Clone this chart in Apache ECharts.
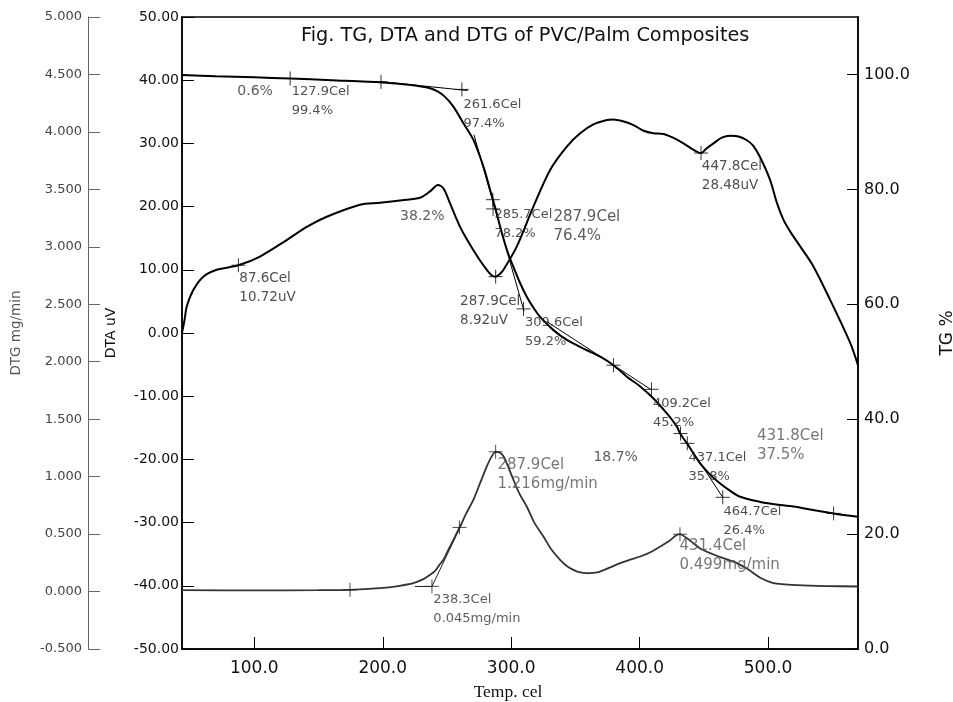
<!DOCTYPE html>
<html>
<head>
<meta charset="utf-8">
<script src="https://cdn.jsdelivr.net/npm/echarts@6/dist/echarts.min.js"></script>
<style>
html,body{margin:0;padding:0;background:#fff;}
#chart{width:953px;height:702px;}
</style>
</head>
<body>
<div id="chart"></div>
<script>
// ---- Data (temperature in Cel) ----
const tgData = [
  [43.7, 99.9], [70, 99.7], [100, 99.5], [127.9, 99.3], [160, 99.0], [200, 98.6],
  [220, 98.2], [236.8, 97.6], [243, 97.0], [248.5, 96.1], [255, 94.4], [262.8, 91.5],
  [270.6, 88.6], [278.3, 84.0], [283.6, 79.9], [288.8, 75.8], [291.4, 73.5], [296.6, 69.5],
  [301.7, 66.5], [306.9, 63.7], [312.1, 61.3], [317, 59.5], [322.5, 57.8], [332.9, 55.5],
  [343.3, 53.8], [358.9, 52.0], [370, 50.8], [379.6, 49.4], [390, 47.4], [400.4, 45.7],
  [410.8, 43.6], [421.2, 41.0], [429, 38.7], [431.5, 37.5], [436.8, 35.8], [447.1, 32.3],
  [455, 30.3], [462.7, 28.8], [470, 27.6], [478.3, 26.5], [493.9, 25.6], [505, 25.2],
  [519.8, 24.8], [535, 24.2], [551, 23.6], [570, 23.0]
];
const dtaData = [
  [43.7, 0.0], [45.7, 2.1], [47.4, 4.2], [52.5, 6.8], [60.3, 8.9], [70.7, 10.0],
  [87.6, 10.72], [104.4, 12.1], [125.2, 14.7], [140.8, 16.8], [156.4, 18.4], [182.3, 20.3],
  [197.9, 20.6], [215, 21.0], [229, 21.4], [236.8, 22.4], [243, 23.4], [247.2, 22.9],
  [252.4, 20.5], [256.5, 18.5], [260.2, 16.8], [265, 15.0], [270.6, 13.1], [276, 11.4],
  [281, 10.0], [285, 9.1], [287.9, 8.92], [291, 9.3], [294, 10.0], [304.4, 13.7],
  [317.3, 20.0], [330.3, 25.8], [343.3, 29.5], [353.7, 31.6], [364, 33.0], [374.5, 33.7],
  [379.6, 33.8], [387, 33.5], [395.2, 32.9], [403, 32.0], [410.7, 31.6], [418.5, 31.5],
  [426, 30.9], [434.1, 30.0], [441, 29.1], [447.8, 28.48], [452, 29.2], [457.5, 30.0],
  [464, 30.9], [470.5, 31.2], [477, 31.1], [483.5, 30.5], [488.5, 29.6], [493.8, 27.8],
  [501.6, 24.2], [507, 20.5], [512, 17.9], [518, 15.8], [525, 13.7], [535.4, 10.5],
  [548.4, 5.2], [564, -1.6], [570, -5.1]
];
const dtgData = [
  [43.7, 0.012], [100, 0.01], [150, 0.012], [174.5, 0.015], [197.9, 0.03], [212, 0.048],
  [223.8, 0.073], [232, 0.11], [236.8, 0.145], [240.7, 0.18], [244, 0.23], [247.2, 0.276],
  [249.8, 0.334], [255, 0.45], [260.2, 0.566], [265, 0.68], [270.6, 0.80], [276, 0.95],
  [281, 1.089], [284.5, 1.17], [287.9, 1.216], [291, 1.21], [294, 1.177], [297.5, 1.09],
  [301.7, 0.973], [306.5, 0.85], [312.1, 0.74], [318, 0.6], [325.1, 0.479], [331, 0.37],
  [338.1, 0.276], [343, 0.225], [348.4, 0.189], [353, 0.168], [358.9, 0.16], [364, 0.163],
  [369.2, 0.174], [377, 0.21], [384.8, 0.247], [392, 0.275], [400.4, 0.305], [408, 0.34],
  [416, 0.392], [423, 0.44], [428, 0.485], [431.4, 0.499], [436, 0.47], [441.9, 0.42],
  [447.1, 0.375], [458, 0.32], [467.9, 0.28], [476, 0.245], [483.5, 0.2], [493.9, 0.12],
  [504.2, 0.073], [513, 0.062], [522.4, 0.055], [545, 0.048], [570, 0.044]
];

// tick labels
const xTicks = [100, 200, 300, 400, 500];
const tgTicks = [0, 20, 40, 60, 80, 100];

// cross markers (analysis points)
const tgCrosses = [[127.9, 99.3], [198.6, 98.7], [261.6, 97.4], [285.7, 78.2], [285.9, 76.6],
  [309.6, 59.2], [379.6, 49.4], [409.2, 45.2], [431.8, 37.5], [437.1, 35.8], [464.7, 26.4], [551, 23.6]];
const dtaCrosses = [[87.6, 10.72], [287.9, 8.92], [447.8, 28.48]];
const dtgCrosses = [[174.5, 0.015], [238.3, 0.045], [259.7, 0.558], [287.9, 1.216], [431.4, 0.499]];

// tangent / baseline construction lines
const tgTangents = [
  [[198.6, 98.75], [266, 97.2]],
  [[271, 89.5], [310, 58.8]],
  [[327.7, 57.0], [409.2, 45.1]],
  [[437.1, 35.8], [464.7, 26.4]]
];
const dtgTangents = [
  [[225, 0.044], [238.3, 0.044]],
  [[238.3, 0.044], [262, 0.6]]
];

// annotation texts: [temp, value, text] (anchor = top-left of text)
const tgNotes = [
  [129.1, 98.7, '127.9Cel\n99.4%'],
  [262.8, 96.4, '261.6Cel\n97.4%'],
  [286.9, 77.3, '285.7Cel\n78.2%'],
  [310.8, 58.4, '309.6Cel\n59.2%'],
  [410.3, 44.4, '409.2Cel\n45.2%'],
  [438.0, 34.9, '437.1Cel\n35.8%'],
  [465.3, 25.6, '464.7Cel\n26.4%']
];
const tgNotesDark = [
  [332.9, 76.9, '287.9Cel\n76.4%']
];
const tgNotesGray = [
  [491.3, 38.7, '431.8Cel\n37.5%']
];
const lossNotes = [
  [86.8, 98.7, '0.6%'],
  [213.5, 76.9, '38.2%'],
  [364.0, 34.9, '18.7%']
];
const dtaNotes = [
  [88.3, 10.1, '87.6Cel\n10.72uV'],
  [260.2, 6.5, '287.9Cel\n8.92uV'],
  [448.4, 27.9, '447.8Cel\n28.48uV']
];
const dtgNotes = [
  [289.3, 1.183, '287.9Cel\n1.216mg/min'],
  [431.0, 0.474, '431.4Cel\n0.499mg/min']
];
const dtgNotesDark = [
  [239.4, 0.015, '238.3Cel\n0.045mg/min']
];

// ---- Chart ----
const FONT = 'DejaVu Sans';
const chart = echarts.init(document.getElementById('chart'), null, {renderer: 'canvas'});

const plus = 'path://M0,5L10,5M5,0L5,10';

function crossSeries(data, yIdx, color) {
  return {
    type: 'scatter', yAxisIndex: yIdx, data: data, symbol: plus, symbolSize: 14,
    itemStyle: {color: 'none', borderColor: color, borderWidth: 1},
    silent: true, z: 5
  };
}
function noteSeries(notes, yIdx, color, size, lh) {
  return {
    type: 'scatter', yAxisIndex: yIdx, symbolSize: 0, silent: true, z: 6,
    data: notes.map(n => ({name: n[2], value: [n[0], n[1]]})),
    label: {
      show: true, position: [0, 0], align: 'left', verticalAlign: 'top',
      formatter: '{b}', color: color, fontSize: size, lineHeight: lh, fontFamily: FONT
    }
  };
}
function tangentSeries(list, yIdx, color) {
  return list.map(seg => ({
    type: 'line', yAxisIndex: yIdx, data: seg, showSymbol: false, silent: true,
    lineStyle: {color: color, width: 1}, z: 3
  }));
}

const option = {
  backgroundColor: '#fff',
  animation: false,
  title: {
    text: 'Fig. TG, DTA and DTG of PVC/Palm Composites',
    left: 296, top: 21,
    textStyle: {fontFamily: FONT, fontSize: 19.3, fontWeight: 'normal', color: '#111'}
  },
  grid: {
    left: 182, right: 95, top: 17, bottom: 53,
    outerBoundsMode: 'none', containLabel: false,
    show: true, borderColor: '#000', borderWidth: 1.5, backgroundColor: 'transparent'
  },
  xAxis: {
    type: 'value', min: 43.7, max: 570,
    name: 'Temp. cel', nameLocation: 'middle', nameGap: 34,
    nameTextStyle: {fontFamily: 'Liberation Serif', fontSize: 17.5, color: '#111', padding: [0, 24, 0, 0]},
    axisLine: {onZero: false, lineStyle: {color: '#000', width: 1.5}},
    axisTick: {inside: true, length: 12, customValues: xTicks, lineStyle: {color: '#000'}},
    axisLabel: {customValues: xTicks, formatter: v => v.toFixed(1), fontFamily: FONT, fontSize: 17, color: '#111', margin: 11},
    splitLine: {show: false}
  },
  yAxis: [
    {
      type: 'value', position: 'left', min: -50, max: 50, interval: 10,
      name: 'DTA uV', nameLocation: 'middle', nameGap: 64, nameRotate: 90,
      nameTextStyle: {fontFamily: FONT, fontSize: 14, color: '#111'},
      axisLine: {show: true, onZero: false, lineStyle: {color: '#000', width: 1.5}},
      axisTick: {show: true, inside: true, length: 12, lineStyle: {color: '#000'}},
      axisLabel: {formatter: v => v.toFixed(2), fontFamily: FONT, fontSize: 14, color: '#111', margin: 3},
      splitLine: {show: false}
    },
    {
      type: 'value', position: 'left', offset: 94, min: -0.5, max: 5, interval: 0.5,
      name: 'DTG mg/min', nameLocation: 'middle', nameGap: 65, nameRotate: 90,
      nameTextStyle: {fontFamily: FONT, fontSize: 13.5, color: '#555'},
      axisLine: {show: true, onZero: false, lineStyle: {color: '#666', width: 1}},
      axisTick: {show: true, inside: true, length: 12, lineStyle: {color: '#666'}},
      axisLabel: {formatter: v => v.toFixed(3), fontFamily: FONT, fontSize: 13, color: '#444', margin: 6},
      splitLine: {show: false}
    },
    {
      type: 'value', position: 'right', min: 0, max: 110,
      name: 'TG %', nameLocation: 'middle', nameGap: 81, nameRotate: 90,
      nameTextStyle: {fontFamily: FONT, fontSize: 17, color: '#111'},
      axisLine: {show: true, onZero: false, lineStyle: {color: '#000', width: 1.5}},
      axisTick: {show: true, inside: true, length: 11, customValues: tgTicks, lineStyle: {color: '#000'}},
      axisLabel: {customValues: tgTicks, formatter: v => v.toFixed(1), fontFamily: FONT, fontSize: 16, color: '#111', margin: 6},
      splitLine: {show: false}
    }
  ],
  series: [
    {
      name: 'TG', type: 'line', yAxisIndex: 2, data: tgData, showSymbol: false,
      smooth: 0.3, lineStyle: {color: '#000', width: 2}, z: 4
    },
    {
      name: 'DTA', type: 'line', yAxisIndex: 0, data: dtaData, showSymbol: false,
      smooth: 0.3, lineStyle: {color: '#000', width: 2}, z: 4
    },
    {
      name: 'DTG', type: 'line', yAxisIndex: 1, data: dtgData, showSymbol: false,
      smooth: 0.3, lineStyle: {color: '#333', width: 1.8}, z: 4
    },
    ...tangentSeries(tgTangents, 2, '#000'),
    ...tangentSeries(dtgTangents, 1, '#222'),
    crossSeries(tgCrosses, 2, '#000'),
    crossSeries(dtaCrosses, 0, '#000'),
    crossSeries(dtgCrosses, 1, '#222'),
    noteSeries(tgNotes, 2, '#222', 13, 19),
    noteSeries(tgNotesDark, 2, '#333', 15, 19),
    noteSeries(tgNotesGray, 2, '#555', 15, 19),
    noteSeries(lossNotes, 2, '#333', 14, 18),
    noteSeries(dtaNotes, 0, '#222', 13.5, 19),
    noteSeries(dtgNotes, 1, '#555', 15, 19),
    noteSeries(dtgNotesDark, 1, '#333', 13, 19)
  ]
};
chart.setOption(option);
</script>
</body>
</html>
